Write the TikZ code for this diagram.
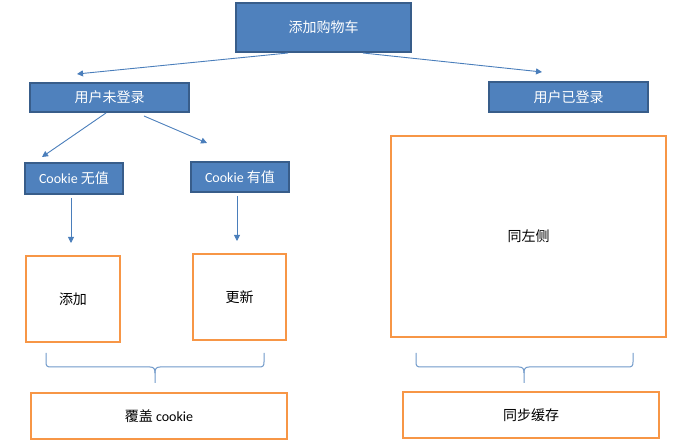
\documentclass[tikz,border=0pt]{standalone}
\usepackage{fontspec}
\setmainfont{Carlito}
\newfontfamily\cjk{Noto Sans CJK SC}
\usetikzlibrary{arrows.meta}
\definecolor{boxblue}{HTML}{4F81BD}
\definecolor{boxedge}{HTML}{385D8A}
\definecolor{boxorange}{HTML}{F79646}
\definecolor{linkblue}{HTML}{4A7EBB}
\tikzset{
  bluebox/.style={draw=boxedge, line width=1.8pt, fill=boxblue, text=white, inner sep=0pt, font=\fontsize{14}{16}\selectfont},
  orangebox/.style={draw=boxorange, line width=1.8pt, fill=white, text=black, inner sep=0pt, font=\fontsize{14}{16}\selectfont},
  link/.style={draw=linkblue, line width=0.9pt, -{Triangle[length=6pt,width=6pt]}},
  bracepath/.style={draw=linkblue!80, line width=1pt}
}
\begin{document}
\begin{tikzpicture}[x=1pt,y=-1pt]
\useasboundingbox (0,0) rectangle (681,446);
% nodes
\node[bluebox, minimum width=175pt, minimum height=49pt] (top) at (323.5,27.5) {\cjk 添加购物车};
\node[bluebox, minimum width=159pt, minimum height=29pt] (nl) at (109.5,97.5) {\cjk 用户未登录};
\node[bluebox, minimum width=159pt, minimum height=30pt] (nr) at (568.5,97) {\cjk 用户已登录};
\node[bluebox, minimum width=98pt, minimum height=31pt] (c1) at (74,178.5) {Cookie {\cjk 无值}};
\node[bluebox, minimum width=98pt, minimum height=30pt] (c2) at (240,177) {Cookie {\cjk 有值}};
\node[orangebox, minimum width=94pt, minimum height=86pt] (a1) at (73,299) {\cjk 添加};
\node[orangebox, minimum width=93pt, minimum height=86pt] (a2) at (239.5,297) {\cjk 更新};
\node[orangebox, minimum width=275pt, minimum height=201pt] (big) at (528.5,236.5) {\cjk 同左侧};
\node[orangebox, minimum width=256pt, minimum height=46pt] (b1) at (159,416) {{\cjk 覆盖} cookie};
\node[orangebox, minimum width=256pt, minimum height=46pt] (b2) at (531,415) {\cjk 同步缓存};
% connector ends
\coordinate (t1) at (288,53);
\coordinate (t1e) at (77,74);
\coordinate (t2) at (363,53);
\coordinate (t2e) at (542,72);
\coordinate (l1) at (106,113);
\coordinate (l1e) at (42,157);
\coordinate (l2) at (144,116);
\coordinate (l2e) at (207,143);
\coordinate (v1) at (71,198);
\coordinate (v1e) at (71,243);
\coordinate (v2) at (237,196);
\coordinate (v2e) at (237,241);
\draw[link] (t1) -- (t1e);
\draw[link] (t2) -- (t2e);
\draw[link] (l1) -- (l1e);
\draw[link] (l2) -- (l2e);
\draw[link] (v1) -- (v1e);
\draw[link] (v2) -- (v2e);
% braces
\draw[bracepath] (46,353) -- (46,362) .. controls (46,366) and (47,367) .. (51,367) -- (150,367) .. controls (154,367) and (155,369) .. (155,373) -- (155,383);
\draw[bracepath] (155,373) .. controls (155,369) and (156,367) .. (160,367) -- (259,367) .. controls (263,367) and (264,366) .. (264,362) -- (264,353);
\draw[bracepath] (416,353) -- (416,362) .. controls (416,366) and (417,367) .. (421,367) -- (519,367) .. controls (523,367) and (524,369) .. (524,373) -- (524,383);
\draw[bracepath] (524,373) .. controls (524,369) and (525,367) .. (529,367) -- (628,367) .. controls (632,367) and (633,366) .. (633,362) -- (633,353);
\end{tikzpicture}
\end{document}
